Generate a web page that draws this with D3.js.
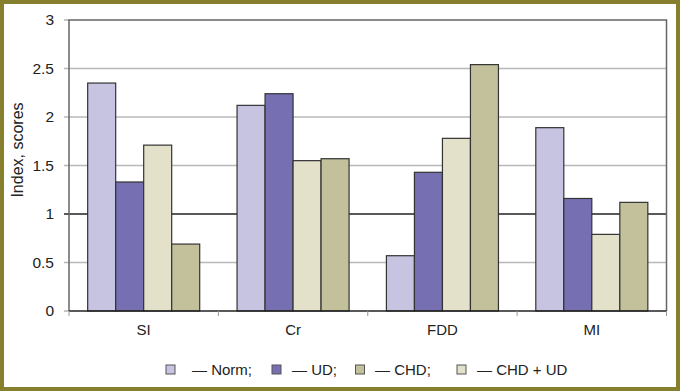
<!DOCTYPE html>
<html><head><meta charset="utf-8">
<script src="https://cdn.jsdelivr.net/npm/d3@7/dist/d3.min.js"></script>
<style>body{margin:0;background:#fff}svg{display:block;font-family:"Liberation Sans",Arial,sans-serif}</style>
</head><body><svg id="c" width="680" height="391"></svg>
<script>
const categories = ["SI", "Cr", "FDD", "MI"];
const seriesNames = ["Norm", "UD", "CHD + UD", "CHD"];
const norm   = [2.35, 2.12, 0.57, 1.89];
const ud     = [1.33, 2.24, 1.43, 1.16];
const chdUd  = [1.71, 1.55, 1.78, 0.79];
const chd    = [0.69, 1.57, 2.54, 1.12];
const yTicks = [0, 0.5, 1, 1.5, 2, 2.5, 3];
const legendLabels = ["— Norm;", "— UD;", "— CHD;", "— CHD + UD"];
const legendColors = ["#c7c4e2", "#7670b3", "#c2c19c", "#e3e1c9"];
const colors = {"Norm":"#c7c4e2","UD":"#7670b3","CHD + UD":"#e3e1c9","CHD":"#c2c19c"};
const seriesValues = [norm, ud, chdUd, chd];

const svg = d3.select("#c");
const L = 69, R = 666.5, T = 20, B = 311;
const y = d3.scaleLinear().domain([0, 3]).range([B, T]);
const x0 = d3.scaleBand().domain(categories).range([L, R]).padding(0);
const pad = x0.bandwidth() * 0.125;
const x1 = d3.scaleBand().domain(seriesNames).range([pad, x0.bandwidth() - pad]).padding(0);

// frame
svg.append("rect").attr("x", 2).attr("y", 2).attr("width", 676).attr("height", 387)
  .attr("fill", "#fff").attr("stroke", "#857f2e").attr("stroke-width", 4);

// gridlines
const g = svg.append("g");
g.selectAll("line.grid").data(yTicks.filter(d => d > 0 && d < 3)).join("line")
  .attr("x1", L - 5).attr("x2", R).attr("y1", d => y(d)).attr("y2", d => y(d))
  .attr("stroke", d => d === 1 ? "#222" : "#b8b8b8").attr("stroke-width", d => d === 1 ? 1.3 : 1.6);
g.append("line").attr("x1", L - 5).attr("x2", L).attr("y1", y(3)).attr("y2", y(3)).attr("stroke", "#b8b8b8").attr("stroke-width", 1.6);
g.append("line").attr("x1", L - 5).attr("x2", L).attr("y1", y(0)).attr("y2", y(0)).attr("stroke", "#b8b8b8").attr("stroke-width", 1.6);

// plot border (top, left, right)
svg.append("path").attr("d", `M${L},${B}V${T}H${R}V${B}`).attr("fill", "none").attr("stroke", "#666").attr("stroke-width", 1.5);

// bars
const groups = svg.append("g").selectAll("g").data(categories).join("g")
  .attr("transform", d => `translate(${x0(d)},0)`);
groups.selectAll("rect").data((c, i) => seriesNames.map((s, k) => ({s, v: seriesValues[k][i]}))).join("rect")
  .attr("x", d => x1(d.s)).attr("width", x1.bandwidth())
  .attr("y", d => y(d.v)).attr("height", d => y(0) - y(d.v))
  .attr("fill", d => colors[d.s]).attr("stroke", "#333").attr("stroke-width", 1.2);

// x axis line and ticks
svg.append("line").attr("x1", L).attr("x2", R).attr("y1", B).attr("y2", B).attr("stroke", "#222").attr("stroke-width", 1.5);
const bounds = categories.map(c => x0(c)).concat([R]);
svg.selectAll("line.xt").data(bounds).join("line").attr("class", "xt")
  .attr("x1", d => d).attr("x2", d => d).attr("y1", B).attr("y2", B + 5).attr("stroke", "#999").attr("stroke-width", 1);

// y tick labels
svg.selectAll("text.yl").data(yTicks).join("text").attr("class", "yl")
  .attr("x", 54).attr("y", d => y(d)).attr("dy", "0.35em").attr("text-anchor", "end")
  .attr("font-size", 15.5).attr("fill", "#222").text(d => d);

// category labels
svg.selectAll("text.cl").data(categories).join("text").attr("class", "cl")
  .attr("x", d => x0(d) + x0.bandwidth() / 2).attr("y", 335).attr("text-anchor", "middle")
  .attr("font-size", 15).attr("fill", "#222").text(d => d);

// y title
svg.append("text").attr("transform", `translate(23,150) rotate(-90)`)
  .attr("text-anchor", "middle").attr("font-size", 16).attr("fill", "#222").text("Index, scores");

// legend
const legX = [166, 272, 355.5, 457];
const legTx = [192, 292, 375, 477];
const leg = svg.append("g").selectAll("g").data(legendLabels).join("g")
  .attr("transform", (d, i) => `translate(${legX[i]},365)`);
leg.append("rect").attr("width", 9).attr("height", 9).attr("fill", (d, i) => legendColors[i]).attr("stroke", "#555").attr("stroke-width", 1);
leg.append("text").attr("x", (d, i) => legTx[i] - legX[i]).attr("y", 9.5).attr("font-size", 15).attr("fill", "#222").text(d => d);
</script></body></html>
